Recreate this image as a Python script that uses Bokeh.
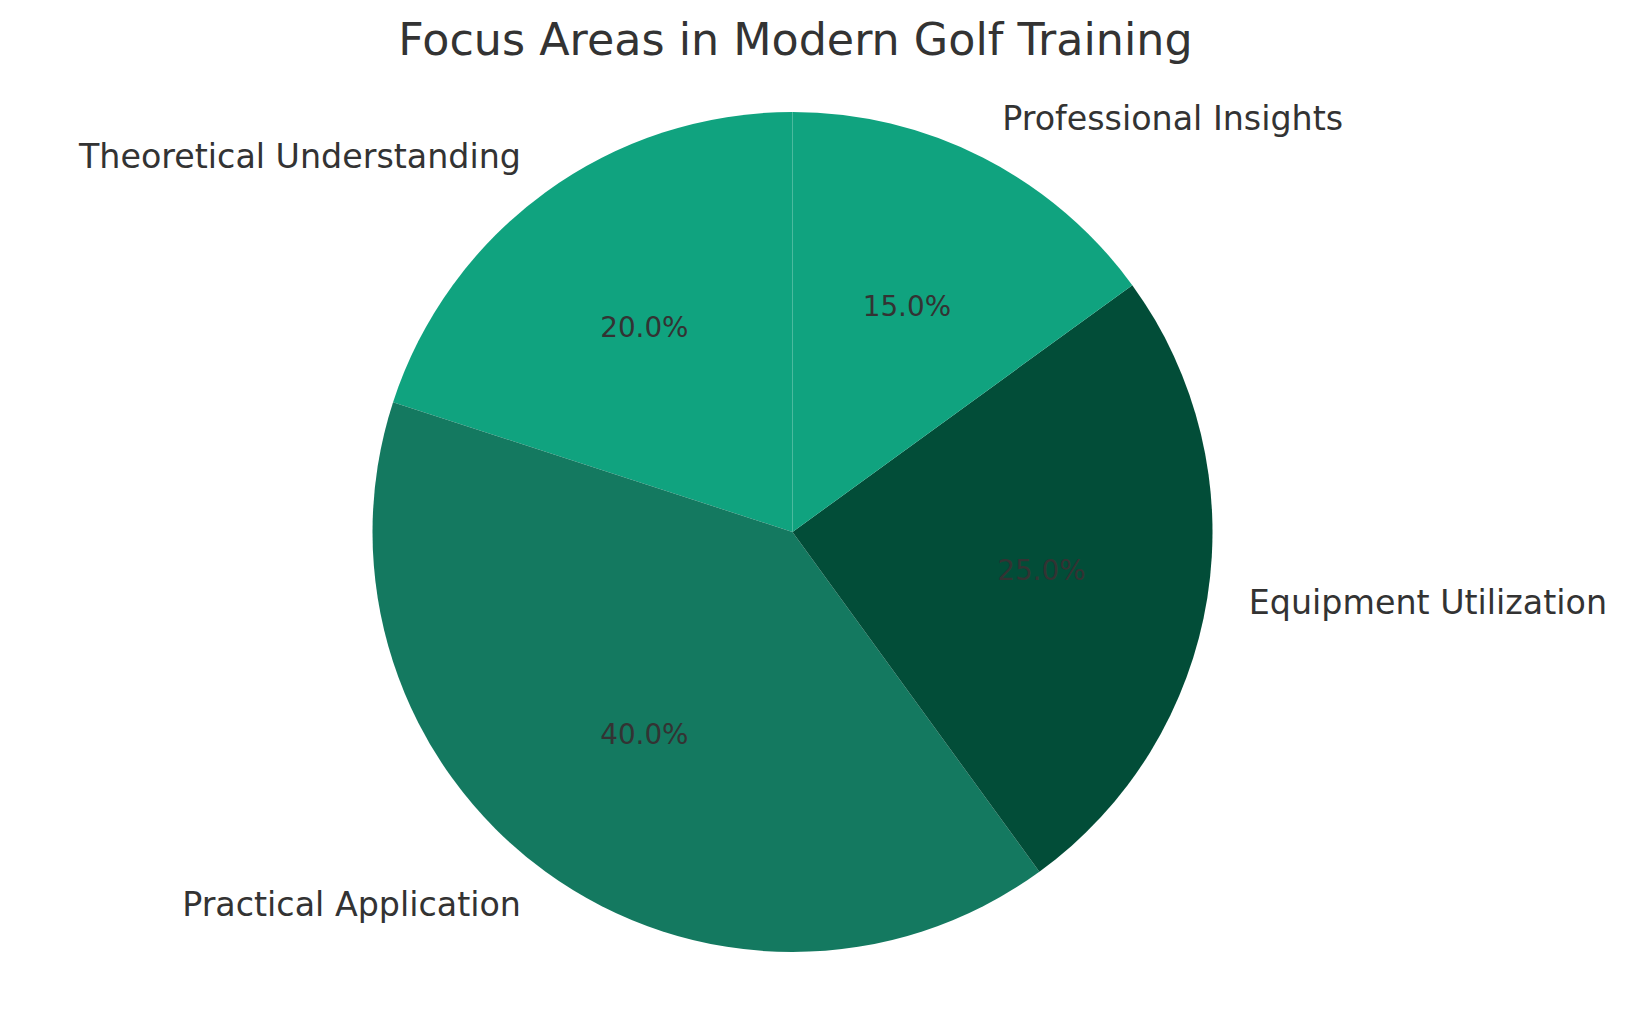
import numpy as np
from bokeh.plotting import figure
from bokeh.models import Range1d, ColumnDataSource
from bokeh.core.properties import value
from bokeh.embed import file_html
from bokeh.resources import INLINE

# ---- data ----
categories = ["Theoretical Understanding", "Practical Application",
              "Equipment Utilization", "Professional Insights"]
shares = [20, 40, 25, 15]
palette = ["#10a37f", "#147960", "#024d38"]
title_text = "Focus Areas in Modern Golf Training"

# ---- layout ----
W, H = 1610, 996
FONT = "DejaVu Sans"
TXT = "#333333"

def to_data(x, y):
    # reference pixel -> data units (1 unit == 1 px)
    return x, H - y

cx, cy = to_data(792, 531.5)
R = 420

vals = np.array(shares, dtype=float)
frac = vals / vals.sum()
ends = np.pi / 2 + 2 * np.pi * np.cumsum(frac)
starts = ends - 2 * np.pi * frac
mids = (starts + ends) / 2
colors = [palette[i % len(palette)] for i in range(len(categories))]

src = ColumnDataSource(dict(
    start=starts, end=ends, color=colors,
))

p = figure(width=W, height=H, output_backend="svg", toolbar_location=None,
           x_range=Range1d(0, W), y_range=Range1d(0, H), min_border=0)
p.axis.visible = False
p.grid.visible = False
p.outline_line_color = None
p.background_fill_color = "white"
p.border_fill_color = "white"

p.wedge(x=cx, y=cy, radius=R, start_angle="start", end_angle="end",
        fill_color="color", line_color=None, source=src)

# category labels
lx = cx + 1.1 * R * np.cos(mids)
ly = cy + 1.1 * R * np.sin(mids)
align = ["right" if np.cos(m) < 0 else "left" for m in mids]
lab = ColumnDataSource(dict(x=lx, y=ly, t=categories, a=align))
p.text(x="x", y="y", text="t", text_align="a", text_baseline="middle",
       y_offset=-1.5,
       text_font=value(FONT), text_font_size="33.3px", text_color=TXT, source=lab)

# percentage labels
px_ = cx + 0.6 * R * np.cos(mids)
py_ = cy + 0.6 * R * np.sin(mids)
pct = ["%.1f%%" % (f * 100) for f in frac]
pl = ColumnDataSource(dict(x=px_, y=py_, t=pct))
p.text(x="x", y="y", text="t", text_align="center", text_baseline="middle",
       y_offset=-1,
       text_font=value(FONT), text_font_size="27.8px", text_color=TXT, source=pl)

# title
tx, ty = to_data(795, 38.5)
p.text(x=[tx], y=[ty], text=[title_text], text_align="center",
       text_baseline="alphabetic", text_font=value(FONT),
       text_font_size="44.4px", text_color=TXT)

open("out.html", "w").write(file_html(p, INLINE))
